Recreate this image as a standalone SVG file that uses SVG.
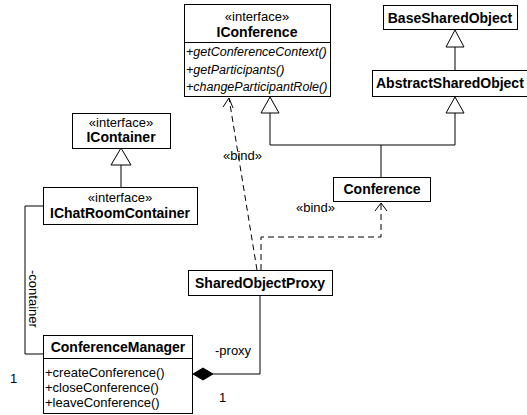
<svg xmlns="http://www.w3.org/2000/svg" width="527" height="415" viewBox="0 0 527 415">
<defs>
<style>
.box{fill:#fff;stroke:#000;stroke-width:1}
.t{font-family:"Liberation Sans",Arial,sans-serif;font-size:13px;fill:#000}
.b{font-weight:bold;font-size:14px;text-anchor:middle}
.m{text-anchor:middle}
.i{font-style:italic;font-size:12.5px}
.ln{fill:none;stroke:#000;stroke-width:1}
.ds{fill:none;stroke:#000;stroke-width:1;stroke-dasharray:6,4}
.tri{fill:#fff;stroke:#000;stroke-width:1}
</style>
</defs>
<rect width="527" height="415" fill="#fff"/>
<g id="connectors">
<polyline class="ln" points="270,113 270,145 455,145 455,113"/>
<line class="ln" x1="381" y1="145" x2="381" y2="177"/>
<polygon class="tri" points="270,97 261,113 279,113"/>
<polygon class="tri" points="455,97 446,113 464,113"/>
<line class="ln" x1="455" y1="47" x2="455" y2="70"/>
<polygon class="tri" points="455,30 446,47 464,47"/>
<line class="ln" x1="121" y1="165" x2="121" y2="187"/>
<polygon class="tri" points="121,148 111,165 131,165"/>
<polyline class="ln" points="43,206 25,206 25,354 43,354"/>
<polyline class="ln" points="213,374 260,374 260,295"/>
<polygon points="193,374 203,368 213,374 203,380" fill="#000" stroke="#000"/>
<line class="ds" x1="257" y1="270" x2="229" y2="98"/>
<polyline class="ln" points="223,107 229,98 233,108"/>
<polyline class="ds" points="261,270 261,237 381,237 381,203"/>
<polyline class="ln" points="375,211 381,203 387,211"/>
<text class="t" x="223" y="160">«bind»</text>
<text class="t" x="296" y="212">«bind»</text>
<text class="t" x="215" y="355">-proxy</text>
<text class="t" x="219" y="402">1</text>
<text class="t" x="10" y="383">1</text>
<text class="t" transform="translate(29,270) rotate(90)">-container</text>
</g>
<g id="IConference">
<rect class="box" x="184.5" y="4.5" width="146" height="92"/>
<line class="ln" x1="184.5" y1="42.5" x2="330.5" y2="42.5"/>
<text class="t m" x="257" y="21">«interface»</text>
<text class="t b" x="257" y="37">IConference</text>
<text class="t i" x="186" y="56">+getConferenceContext()</text>
<text class="t i" x="186" y="74">+getParticipants()</text>
<text class="t i" x="186" y="91">+changeParticipantRole()</text>
</g>
<g id="BaseSharedObject">
<rect class="box" x="383.5" y="5.5" width="134" height="24"/>
<text class="t b" x="450" y="23">BaseSharedObject</text>
</g>
<g id="AbstractSharedObject">
<rect class="box" x="372.5" y="70.5" width="170" height="26"/>
<text class="t b" x="376" y="88" style="text-anchor:start">AbstractSharedObject</text>
</g>
<g id="Conference">
<rect class="box" x="333.5" y="177.5" width="97" height="24"/>
<text class="t b" x="382" y="194">Conference</text>
</g>
<g id="IContainer">
<rect class="box" x="72.5" y="113.5" width="98" height="35"/>
<text class="t m" x="121" y="127">«interface»</text>
<text class="t b" x="121" y="142">IContainer</text>
</g>
<g id="IChatRoomContainer">
<rect class="box" x="43.5" y="187.5" width="154" height="37"/>
<text class="t m" x="120" y="202">«interface»</text>
<text class="t b" x="120" y="218">IChatRoomContainer</text>
</g>
<g id="SharedObjectProxy">
<rect class="box" x="188.5" y="270.5" width="144" height="25"/>
<text class="t b" x="260" y="288">SharedObjectProxy</text>
</g>
<g id="ConferenceManager">
<rect class="box" x="43.5" y="335.5" width="149" height="78"/>
<line class="ln" x1="43.5" y1="358.5" x2="192.5" y2="358.5"/>
<text class="t b" x="118" y="352">ConferenceManager</text>
<text class="t" x="45" y="377">+createConference()</text>
<text class="t" x="45" y="392">+closeConference()</text>
<text class="t" x="45" y="407">+leaveConference()</text>
</g>
</svg>
